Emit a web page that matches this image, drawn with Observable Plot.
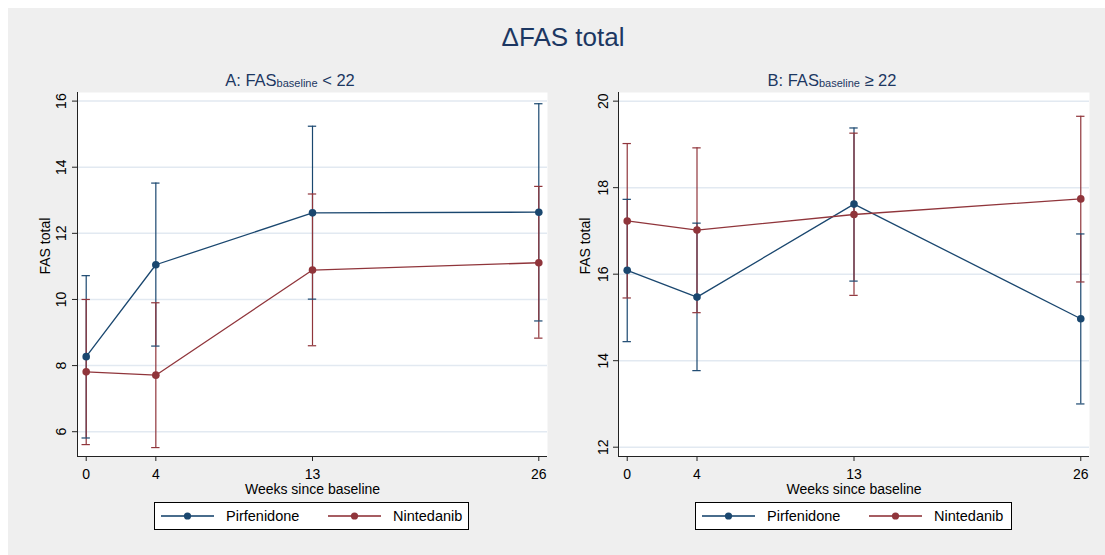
<!DOCTYPE html>
<html>
<head>
<meta charset="utf-8">
<script src="https://cdn.jsdelivr.net/npm/d3@7"></script>
<script src="https://cdn.jsdelivr.net/npm/@observablehq/plot@0.6"></script>
<style>
  html, body { margin: 0; padding: 0; background: #ffffff; }
  #fig { position: relative; width: 1105px; height: 555px; overflow: hidden; font-family: "Liberation Sans", Arial, sans-serif; }
  #bg { position: absolute; left: 8px; top: 8px; right: 0; bottom: 0; background: #efefef; }
  .layer { position: absolute; }
  svg { overflow: visible; }
</style>
</head>
<body>
<div id="fig">
  <div id="bg"></div>
  <div id="overlay" class="layer" style="left:0;top:0;"></div>
  <div id="panelA" class="layer" style="left:0;top:60px;"></div>
  <div id="panelB" class="layer" style="left:550px;top:60px;"></div>
</div>
<script>
// ---------- data ----------
const weeks = [0, 4, 13, 26];
const groups = ["Pirfenidone", "Nintedanib"];
const groupColors = ["#1a476f", "#90353b"];

// Panel A: FAS baseline < 22
const aPirMean = [8.27, 11.05, 12.62, 12.64];
const aPirLo   = [5.81, 8.59, 10.01, 9.35];
const aPirHi   = [10.72, 13.52, 15.24, 15.92];
const aNinMean = [7.81, 7.71, 10.89, 11.11];
const aNinLo   = [5.61, 5.52, 8.60, 8.83];
const aNinHi   = [10.00, 9.90, 13.19, 13.42];

// Panel B: FAS baseline >= 22
const bPirMean = [16.09, 15.47, 17.62, 14.97];
const bPirLo   = [14.44, 13.77, 15.84, 13.00];
const bPirHi   = [17.73, 17.18, 19.38, 16.93];
const bNinMean = [17.23, 17.02, 17.38, 17.74];
const bNinLo   = [15.45, 15.11, 15.51, 15.82];
const bNinHi   = [19.02, 18.92, 19.26, 19.65];

const aTicks = [6, 8, 10, 12, 14, 16];
const bTicks = [12, 14, 16, 18, 20];
const xTicks = [0, 4, 13, 26];

const titleText = "\u0394FAS total";
const xLabel = "Weeks since baseline";
const yLabel = "FAS total";

// ---------- helpers ----------
function rowsFor(pm, pl, ph, nm, nl, nh) {
  const rows = [];
  weeks.forEach((w, i) => rows.push({group: groups[0], week: w, mean: pm[i], lo: pl[i], hi: ph[i]}));
  weeks.forEach((w, i) => rows.push({group: groups[1], week: w, mean: nm[i], lo: nl[i], hi: nh[i]}));
  return rows;
}

const FONT = "Liberation Sans, Arial, sans-serif";
const xDomain = [-0.5, 26.5];

function panel({rows, yDomain, yTicks, width, marginLeft, marginRight, yTickDx, yLabDx}) {
  const capHalf = 0.24;
  return Plot.plot({
    width, height: 440,
    marginLeft, marginRight, marginTop: 32, marginBottom: 44,
    style: {background: "transparent", fontFamily: FONT, color: "#000", overflow: "visible"},
    x: {domain: xDomain, axis: null},
    y: {domain: yDomain, axis: null},
    color: {domain: groups, range: groupColors},
    marks: [
      Plot.frame({fill: "white", stroke: "none"}),
      Plot.gridY(yTicks, {stroke: "#e2e9f1", strokeOpacity: 1, strokeWidth: 1.5}),
      Plot.ruleX([xDomain[0]], {stroke: "#222", strokeWidth: 1}),
      Plot.ruleY([yDomain[0]], {stroke: "#222", strokeWidth: 1}),
      Plot.axisY(yTicks, {anchor: "left", tickSize: 5, tickFormat: () => "", label: null, stroke: "#222"}),
      Plot.text(yTicks, {frameAnchor: "left", y: d => d, text: d => String(d), rotate: -90, dx: yTickDx,
        fontSize: 14, textAnchor: "middle", lineAnchor: "middle", fill: "#000"}),
      Plot.axisX(xTicks, {anchor: "bottom", tickSize: 5, tickFormat: () => "", label: null, stroke: "#222"}),
      Plot.text(xTicks, {x: d => d, frameAnchor: "bottom", dy: 18, text: d => String(d),
        fontSize: 14, lineAnchor: "middle", fill: "#000"}),
      Plot.text([xLabel], {frameAnchor: "bottom", dy: 33, text: d => d, fontSize: 14, lineAnchor: "middle", fill: "#000"}),
      Plot.text([yLabel], {frameAnchor: "left", dx: yLabDx, rotate: -90, text: d => d, fontSize: 14, fill: "#000"}),
      // error bars
      Plot.ruleX(rows, {x: "week", y1: "lo", y2: "hi", stroke: "group", strokeWidth: 1.2}),
      Plot.ruleY(rows, {y: "hi", x1: d => d.week - capHalf, x2: d => d.week + capHalf, stroke: "group", strokeWidth: 1.2}),
      Plot.ruleY(rows, {y: "lo", x1: d => d.week - capHalf, x2: d => d.week + capHalf, stroke: "group", strokeWidth: 1.2}),
      // means
      Plot.line(rows, {x: "week", y: "mean", z: "group", stroke: "group", strokeWidth: 1.3}),
      Plot.dot(rows, {x: "week", y: "mean", fill: "group", stroke: "none", r: 3.8})
    ]
  });
}

document.getElementById("panelA").appendChild(panel({
  rows: rowsFor(aPirMean, aPirLo, aPirHi, aNinMean, aNinLo, aNinHi),
  yDomain: [5.25, 16.26], yTicks: aTicks, width: 560,
  marginLeft: 77, marginRight: 13, yTickDx: -16, yLabDx: -32
}));

document.getElementById("panelB").appendChild(panel({
  rows: rowsFor(bPirMean, bPirLo, bPirHi, bNinMean, bNinLo, bNinHi),
  yDomain: [11.785, 20.2], yTicks: bTicks, width: 555,
  marginLeft: 68, marginRight: 16, yTickDx: -15, yLabDx: -33
}));

// ---------- titles & legends ----------
const svg = d3.select("#overlay").append("svg")
  .attr("width", 1105).attr("height", 555)
  .style("font-family", FONT);

svg.append("text").attr("x", 563).attr("y", 46).attr("text-anchor", "middle")
  .attr("font-size", 26).attr("fill", "#1c3762").text(titleText);

function subtitle(cx, op) {
  const t = svg.append("text").attr("x", cx).attr("y", 86).attr("text-anchor", "middle")
    .attr("font-size", 16.5).attr("fill", "#1c3762");
  t.append("tspan").text(op[0]);
  t.append("tspan").attr("font-size", 11).attr("dy", 1).text(op[1]);
  t.append("tspan").attr("dy", -1).text(op[2]);
}
subtitle(290, ["A: FAS", "baseline", " < 22"]);
subtitle(832, ["B: FAS", "baseline", " \u2265 22"]);

function legend(x0, w) {
  const g = svg.append("g").attr("transform", `translate(${x0},502)`);
  g.append("rect").attr("x", 0.5).attr("y", 0.5).attr("width", w).attr("height", 27)
    .attr("fill", "white").attr("stroke", "#000").attr("stroke-width", 1);
  const offs = [7, 174];
  groups.forEach((name, i) => {
    const o = offs[i];
    g.append("line").attr("x1", o).attr("x2", o + 53).attr("y1", 14).attr("y2", 14)
      .attr("stroke", groupColors[i]).attr("stroke-width", 1.8).attr("stroke-opacity", 0.8);
    g.append("circle").attr("cx", o + 26.5).attr("cy", 14).attr("r", 3.6).attr("fill", groupColors[i]);
    g.append("text").attr("x", o + 65).attr("y", 19).attr("font-size", 14.5).attr("fill", "#000").text(name);
  });
}
legend(154, 314);
legend(695, 316);
</script>
</body>
</html>
